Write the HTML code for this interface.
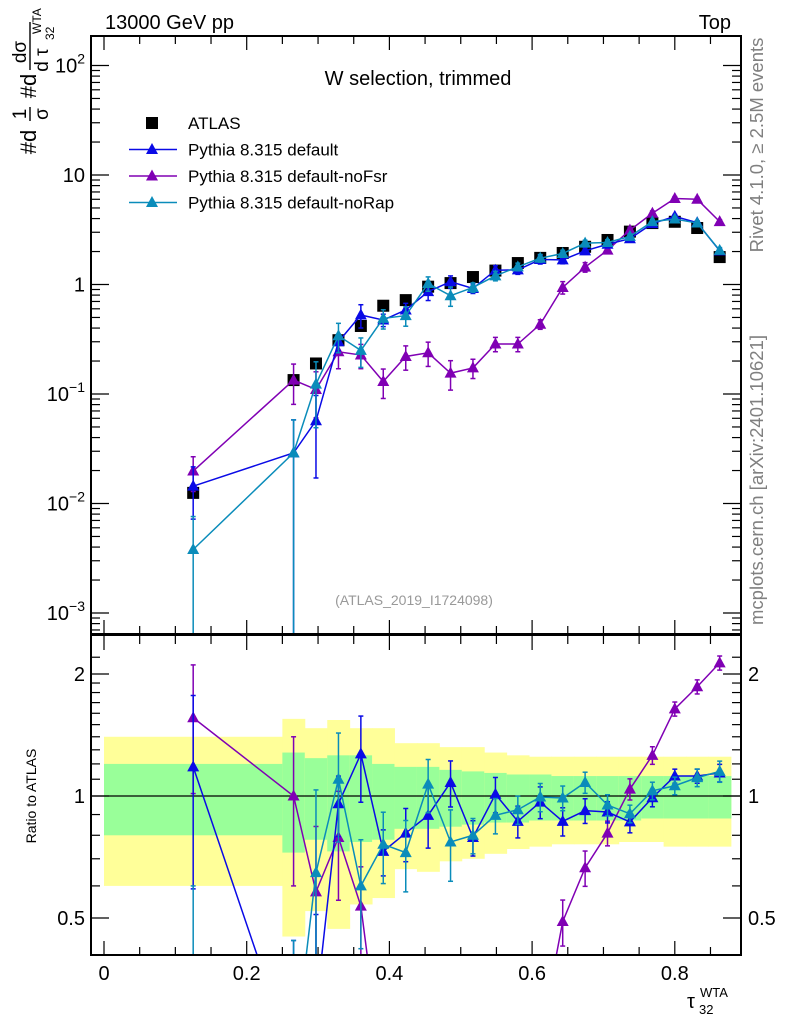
<!DOCTYPE html>
<html><head><meta charset="utf-8">
<style>
html,body{margin:0;padding:0;background:#fff;width:786px;height:1024px;overflow:hidden;}
svg{display:block;font-family:"Liberation Sans",sans-serif;}
</style></head><body>
<svg id="chart" width="786" height="1024" viewBox="0 0 786 1024" xmlns="http://www.w3.org/2000/svg">
<defs>
<clipPath id="clipMain"><rect x="91" y="36" width="650" height="598"/></clipPath>
<clipPath id="clipRatio"><rect x="91" y="636" width="650" height="319"/></clipPath>
</defs>
<g id="bands" clip-path="url(#clipRatio)"></g>
<g id="grid"></g>
<g id="mainMarks" clip-path="url(#clipMain)"></g>
<g id="ratioMarks" clip-path="url(#clipRatio)"></g>
<g id="axes"></g>
<text x="105" y="29" font-size="20">13000 GeV pp</text>
<text x="731" y="29" font-size="20" text-anchor="end">Top</text>
<text x="418" y="85" font-size="20" text-anchor="middle">W selection, trimmed</text>
<text x="414" y="605" font-size="14" fill="#999" text-anchor="middle">(ATLAS_2019_I1724098)</text>
<text transform="translate(763,145) rotate(-90)" font-size="18.5" fill="#808080" text-anchor="middle">Rivet 4.1.0, ≥ 2.5M events</text>
<text transform="translate(763,480) rotate(-90)" font-size="18.5" fill="#808080" text-anchor="middle">mcplots.cern.ch [arXiv:2401.10621]</text>
<g transform="translate(34,100) rotate(-90)" font-size="22">
<text x="-42" y="2" text-anchor="middle">#d</text>
<text x="-14" y="-8" font-size="19" text-anchor="middle">1</text>
<line x1="-21" y1="-4" x2="-7" y2="-4" stroke="#000" stroke-width="1.4"/>
<text x="-14" y="14" font-size="19" text-anchor="middle">σ</text>
<text x="14" y="2" text-anchor="middle">#d</text>
<text x="48" y="-8" font-size="19" text-anchor="middle">dσ</text>
<line x1="30" y1="-4" x2="78" y2="-4" stroke="#000" stroke-width="1.4"/>
<text x="40" y="14" font-size="19" text-anchor="middle">d τ</text>
<text x="66" y="7" font-size="12">WTA</text>
<text x="60" y="20" font-size="12">32</text>
</g>
<text transform="translate(36,796) rotate(-90)" font-size="14" text-anchor="middle">Ratio to ATLAS</text>
<g>
<text x="687" y="1008" font-size="20">τ</text>
<text x="700" y="997" font-size="13">WTA</text>
<text x="699" y="1014" font-size="13">32</text>
</g>
<g id="legend"></g>
</svg>
<script>
const edges=[0,0.25,0.2814,0.3129,0.3443,0.3757,0.4071,0.4386,0.47,0.5014,0.5329,0.5643,0.5957,0.6271,0.6586,0.69,0.7214,0.7529,0.7843,0.8157,0.8471,0.8786];
const binCenters=[0.125,0.2657,0.2971,0.3286,0.36,0.3914,0.4229,0.4543,0.4857,0.5171,0.5486,0.58,0.6114,0.6429,0.6743,0.7057,0.7371,0.7686,0.8,0.8314,0.8629];
const atlasVals=[0.0125,0.134,0.19,0.31,0.418,0.64,0.72,0.955,1.03,1.17,1.34,1.57,1.75,1.94,2.21,2.55,3.04,3.64,3.74,3.28,1.78];
const defVals=[0.0144,0.029,0.057,0.30,0.527,0.474,0.585,0.86,1.06,0.92,1.35,1.36,1.69,1.68,2.03,2.33,2.62,3.6,4.19,3.67,2.03];
const noFsrVals=[0.0198,0.134,0.11,0.243,0.227,0.13,0.22,0.238,0.155,0.173,0.286,0.286,0.433,0.94,1.44,2.06,3.14,4.47,6.1,6.0,3.75];
const noRapVals=[0.0038,0.029,0.123,0.34,0.25,0.49,0.52,1.02,0.79,0.94,1.2,1.45,1.74,1.92,2.39,2.42,2.75,3.75,3.96,3.64,2.05];
const defRatio=[1.18,0.22,0.30,0.957,1.27,0.73,0.81,0.896,1.08,0.79,1.01,0.866,0.966,0.866,0.92,0.913,0.863,0.99,1.12,1.12,1.14];
const noFsrRatio=[1.56,1.0,0.58,0.79,0.535,0.20,0.31,0.25,0.15,0.15,0.21,0.18,0.25,0.49,0.665,0.81,1.04,1.26,1.64,1.86,2.13];
const noRapRatio=[0.30,0.22,0.647,1.10,0.60,0.76,0.725,1.07,0.77,0.80,0.896,0.925,0.994,0.989,1.08,0.95,0.904,1.03,1.06,1.11,1.15];
const defErr=[0.5,1.0,0.7,0.17,0.24,0.13,0.15,0.17,0.13,0.1,0.1,0.09,0.09,0.08,0.07,0.06,0.06,0.05,0.04,0.04,0.05];
const noFsrErr=[0.35,0.4,0.45,0.3,0.25,0.3,0.25,0.25,0.3,0.2,0.15,0.15,0.1,0.13,0.1,0.07,0.06,0.05,0.04,0.04,0.04];
const noRapErr=[1.0,1.0,0.6,0.3,0.3,0.2,0.2,0.15,0.2,0.1,0.1,0.08,0.08,0.07,0.06,0.06,0.05,0.05,0.05,0.05,0.06];
const yellowHi=[1.40,1.55,1.47,1.54,1.47,1.47,1.35,1.35,1.32,1.32,1.28,1.26,1.25,1.25,1.25,1.25,1.25,1.25,1.25,1.25,1.25];
const yellowLo=[0.60,0.45,0.52,0.47,0.54,0.56,0.66,0.65,0.69,0.70,0.72,0.74,0.75,0.76,0.76,0.76,0.77,0.77,0.75,0.75,0.75];
const greenHi=[1.20,1.28,1.24,1.26,1.26,1.20,1.18,1.18,1.16,1.15,1.14,1.13,1.13,1.12,1.12,1.12,1.12,1.12,1.12,1.12,1.12];
const greenLo=[0.80,0.725,0.78,0.73,0.77,0.78,0.83,0.83,0.84,0.85,0.86,0.86,0.87,0.87,0.87,0.87,0.87,0.88,0.88,0.88,0.88];
const xTickLabels=["0","0.2","0.4","0.6","0.8"];
const mainTickLabels=["10^-3","10^-2","10^-1","1","10","10^2"];
const ratioTickLabels=["0.5","1","2"];

const NS="http://www.w3.org/2000/svg";
const X=v=>104+v*713.5;
const YM=v=>284.5-109.5*Math.log10(v);
const YR=r=>796-122*Math.log2(r);
const L=91,R=741,MT=36,MB=634,RT=636,RB=955;
function mk(tag,attrs,parent){const e=document.createElementNS(NS,tag);for(const k in attrs)e.setAttribute(k,attrs[k]);parent.appendChild(e);return e;}
const gB=document.getElementById('bands'),gA=document.getElementById('axes'),gM=document.getElementById('mainMarks'),gR=document.getElementById('ratioMarks'),gL=document.getElementById('legend');

for(let i=0;i<binCenters.length;i++){
  const x0=X(edges[i]),x1=X(edges[i+1]);
  const y=mk('rect',{x:x0,y:YR(yellowHi[i]),width:x1-x0+0.5,height:YR(yellowLo[i])-YR(yellowHi[i]),fill:'#ffff99'},gB);
  
  
  const g=mk('rect',{x:x0,y:YR(greenHi[i]),width:x1-x0+0.5,height:YR(greenLo[i])-YR(greenHi[i]),fill:'#99ff99'},gB);
  
  
}
const ref=mk('line',{x1:L,x2:R,y1:YR(1),y2:YR(1),stroke:'#000','stroke-width':1.3},gB);



const f1=mk('rect',{x:L,y:MT,width:R-L,height:MB-MT,fill:'none',stroke:'#000','stroke-width':2},gA);


const f2=mk('rect',{x:L,y:RT-1,width:R-L,height:RB-RT+1,fill:'none',stroke:'#000','stroke-width':2},gA);



for(let k=0;k<=17;k++){
  const v=k*0.05,x=X(v),major=(k%4===0),len=major?14:8;
  [[MT,1],[MB,-1],[RT,1],[RB,-1]].forEach(([y,d])=>{mk('line',{x1:x,x2:x,y1:y,y2:y+d*len,stroke:'#000','stroke-width':1.2},gA);});
}
xTickLabels.forEach((t,i)=>{
  const e=mk('text',{x:X(i*0.2),y:980,'font-size':20,'text-anchor':'middle'},gA);e.textContent=t;
  
  
});
for(let d=-4;d<=2;d++){
  for(let m=1;m<=9;m++){
    const v=m*Math.pow(10,d),y=YM(v);if(y<MT||y>MB)continue;
    const len=m===1?18:9;
    mk('line',{x1:L,x2:L+len,y1:y,y2:y,stroke:'#000','stroke-width':1.2},gA);
    mk('line',{x1:R,x2:R-len,y1:y,y2:y,stroke:'#000','stroke-width':1.2},gA);
  }
}
mainTickLabels.forEach((t,i)=>{
  const y=YM(Math.pow(10,i-3))+7;
  const e=mk('text',{x:85,y:y,'font-size':20,'text-anchor':'end'},gA);
  
  
  if(t.indexOf('^')>0){const p=t.split('^');e.textContent=p[0];const s=mk('tspan',{'font-size':14,dy:-9},e);s.textContent=p[1].replace('-','−');}
  else e.textContent=t;
});
[0.5,0.6,0.7,0.8,0.9,1,1.1,1.2,1.3,1.4,1.5,1.6,1.7,1.8,1.9,2,2.2].forEach(r=>{
  const y=YR(r),major=(r===0.5||r===1||r===2),len=major?18:9;
  mk('line',{x1:L,x2:L+len,y1:y,y2:y,stroke:'#000','stroke-width':1.2},gA);
  mk('line',{x1:R,x2:R-len,y1:y,y2:y,stroke:'#000','stroke-width':1.2},gA);
});
ratioTickLabels.forEach(t=>{
  const y=YR(parseFloat(t))+7;
  const a=mk('text',{x:85,y:y,'font-size':20,'text-anchor':'end'},gA);a.textContent=t;
  
  
  const b=mk('text',{x:748,y:y,'font-size':20},gA);b.textContent=t;
  
  
});

function tri(x,y,c,parent){return mk('polygon',{points:`${x},${y-6.5} ${x-6},${y+4.5} ${x+6},${y+4.5}`,fill:c},parent);}
function series(vals,errs,c,Y,parent,bottom,name){
  const pts=vals.map((v,i)=>[X(binCenters[i]),Y(v)]);
  const pl=mk('polyline',{points:pts.map(p=>p.join(',')).join(' '),fill:'none',stroke:c,'stroke-width':1.5},parent);
  
  
  vals.forEach((v,i)=>{
    const x=pts[i][0],lo=v*(1-errs[i]),hi=v*(1+errs[i]);
    const yl=lo>0?Y(lo):bottom,yh=Y(hi);
    mk('line',{x1:x,x2:x,y1:yh,y2:yl,stroke:c,'stroke-width':1.5},parent);
    mk('line',{x1:x-2.5,x2:x+2.5,y1:yh,y2:yh,stroke:c,'stroke-width':1.5},parent);
    mk('line',{x1:x-2.5,x2:x+2.5,y1:yl,y2:yl,stroke:c,'stroke-width':1.5},parent);
    const t=tri(x,pts[i][1],c,parent);
    
    
  });
}
const cDef='#0a0ae6',cFsr='#8000b4',cRap='#0a8cba';
atlasVals.forEach((v,i)=>{
  const s=mk('rect',{x:X(binCenters[i])-6,y:YM(v)-6,width:12,height:12,fill:'#000'},gM);
  
  
});
series(noFsrVals,noFsrErr,cFsr,YM,gM,MB+5,'nofsr');
series(defVals,defErr,cDef,YM,gM,MB+5,'default');
series(noRapVals,noRapErr,cRap,YM,gM,MB+5,'norap');
series(noFsrRatio,noFsrErr,cFsr,YR,gR,RB+5,'nofsr-ratio');
series(defRatio,defErr,cDef,YR,gR,RB+5,'default-ratio');
series(noRapRatio,noRapErr,cRap,YR,gR,RB+5,'norap-ratio');

const leg=[["ATLAS",null],["Pythia 8.315 default",cDef],["Pythia 8.315 default-noFsr",cFsr],["Pythia 8.315 default-noRap",cRap]];
leg.forEach((e,i)=>{
  const y=123+i*26.5;
  const g=mk('g',{},gL);
  
  
  if(e[1]===null){mk('rect',{x:146,y:y-6,width:12,height:12,fill:'#000'},g);}
  else{mk('line',{x1:129,x2:177,y1:y,y2:y,stroke:e[1],'stroke-width':1.5},g);tri(152,y,e[1],g);}
  const t=mk('text',{x:188,y:y+6,'font-size':17},g);t.textContent=e[0];
});
</script>
</body></html>
